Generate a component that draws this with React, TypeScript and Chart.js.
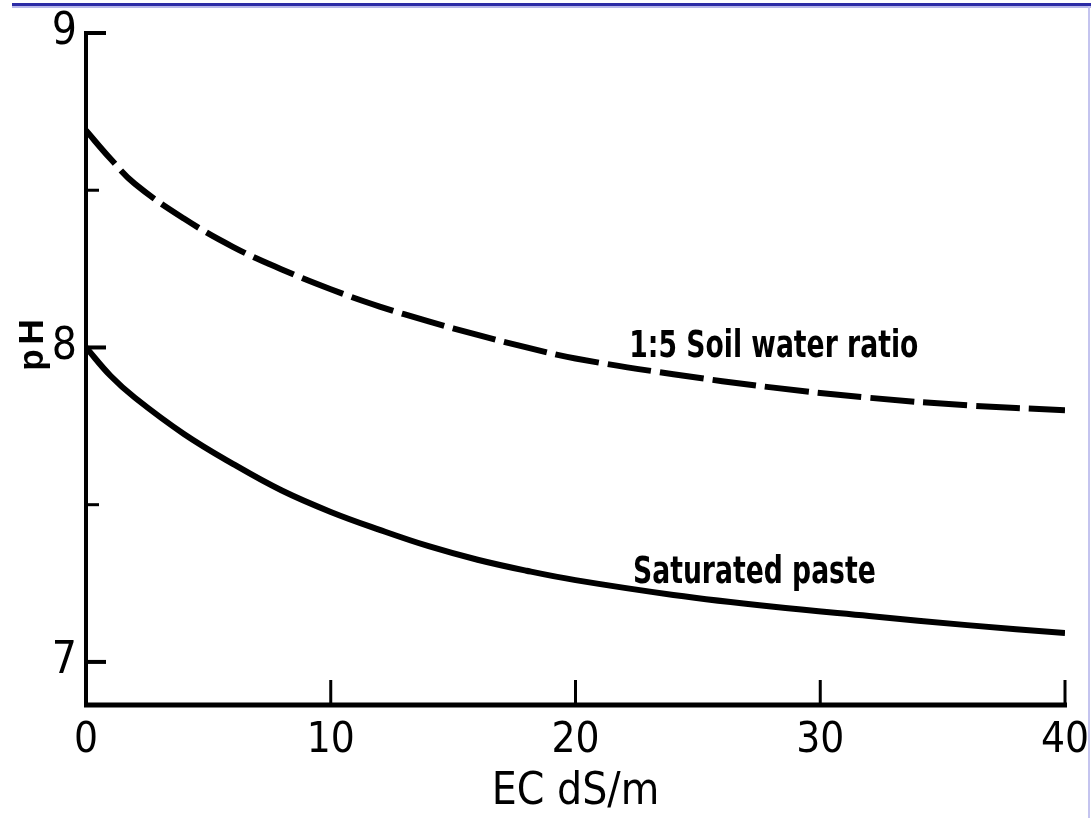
import React, { useEffect, useRef } from "react";
import { Chart, registerables } from "chart.js";

Chart.register(...registerables);

// ---- data ----
const ecValues = [0, 1, 2, 4, 6, 8, 10, 12, 14, 16, 18, 20, 24, 28, 32, 36, 40];
const soilWaterPH = [8.69, 8.6, 8.52, 8.41, 8.32, 8.248, 8.185, 8.13, 8.083, 8.04, 8.0, 7.965, 7.915, 7.873, 7.84, 7.816, 7.8];
const saturatedPastePH = [8.0, 7.91, 7.84, 7.725, 7.63, 7.545, 7.477, 7.42, 7.368, 7.325, 7.29, 7.26, 7.213, 7.176, 7.146, 7.117, 7.092];
const seriesNames = ["1:5 Soil water ratio", "Saturated paste"];
const xTickValues = [0, 10, 20, 30, 40];
const yTickValues = [7, 8, 9];
const yMinorTickValues = [7.5, 8.5];
const xAxisTitle = "EC dS/m";
const yAxisTitle = "pH";
// label anchors in data units (EC, pH at text baseline)
const labelAnchorEC = [22.2, 22.35];
const labelAnchorPH = [7.97, 7.251];

const NARROW = "'Liberation Sans Narrow', 'DejaVu Sans Condensed', sans-serif";
const WIDE = "'Liberation Sans', 'DejaVu Sans', sans-serif";

const decorPlugin = {
  id: "decor",
  beforeDraw(chart: any) {
    const ctx = chart.ctx;
    ctx.save();
    ctx.fillStyle = "#ffffff";
    ctx.fillRect(0, 0, chart.width, chart.height);
    ctx.fillStyle = "#2c2ca6";
    ctx.fillRect(12, 3, chart.width - 12, 3);
    ctx.fillStyle = "#b9b9ea";
    ctx.fillRect(12, 6, chart.width - 12, 2);
    ctx.fillStyle = "#c4c4ef";
    ctx.fillRect(chart.width - 3, 6, 2, chart.height - 6);
    ctx.restore();
  },
  afterDraw(chart: any) {
    const ctx = chart.ctx;
    const xs = chart.scales.x;
    const ys = chart.scales.y;
    const x0 = xs.getPixelForValue(xTickValues[0]);
    const xEnd = xs.getPixelForValue(xTickValues[xTickValues.length - 1]);
    const yTop = ys.getPixelForValue(yTickValues[yTickValues.length - 1]);
    const yBot = chart.chartArea.bottom;
    ctx.save();
    ctx.strokeStyle = "#000";
    ctx.lineCap = "butt";
    // y axis
    ctx.lineWidth = 4;
    ctx.beginPath();
    ctx.moveTo(x0, yTop - 2);
    ctx.lineTo(x0, yBot + 2);
    ctx.stroke();
    // x axis
    ctx.lineWidth = 5;
    ctx.beginPath();
    ctx.moveTo(x0 - 2, yBot);
    ctx.lineTo(xEnd + 2, yBot);
    ctx.stroke();
    // inward y ticks
    ctx.lineWidth = 4;
    yTickValues.forEach((v) => {
      const y = ys.getPixelForValue(v);
      ctx.beginPath();
      ctx.moveTo(x0, y);
      ctx.lineTo(x0 + 20, y);
      ctx.stroke();
    });
    ctx.lineWidth = 3;
    yMinorTickValues.forEach((v) => {
      const y = ys.getPixelForValue(v);
      ctx.beginPath();
      ctx.moveTo(x0, y);
      ctx.lineTo(x0 + 13, y);
      ctx.stroke();
    });
    // inward x ticks
    ctx.lineWidth = 3;
    xTickValues.slice(1).forEach((v) => {
      const x = xs.getPixelForValue(v);
      ctx.beginPath();
      ctx.moveTo(x, yBot);
      ctx.lineTo(x, yBot - 25);
      ctx.stroke();
    });
    // curve labels (condensed lettering)
    ctx.fillStyle = "#000";
    ctx.font = `bold 37px ${NARROW}`;
    ctx.textAlign = "left";
    ctx.textBaseline = "alphabetic";
    seriesNames.forEach((name, i) => {
      ctx.save();
      ctx.translate(xs.getPixelForValue(labelAnchorEC[i]), ys.getPixelForValue(labelAnchorPH[i]));
      ctx.scale(0.8, 1);
      ctx.fillText(name, 0, 0);
      ctx.restore();
    });
    // y axis title (rotated)
    const yMid = ys.getPixelForValue(yTickValues[1]) - 5;
    ctx.save();
    ctx.translate(43, yMid);
    ctx.rotate(-Math.PI / 2);
    ctx.font = `bold 35px ${WIDE}`;
    (ctx as any).letterSpacing = "5px";
    ctx.textAlign = "center";
    ctx.textBaseline = "alphabetic";
    ctx.fillText(yAxisTitle, 0, 0);
    ctx.restore();
    ctx.restore();
  },
};

export default function App() {
  const canvasRef = useRef<HTMLCanvasElement | null>(null);

  useEffect(() => {
    const canvas = canvasRef.current;
    if (!canvas) return;
    const chart = new Chart(canvas, {
      type: "line",
      data: {
        datasets: [
          {
            label: seriesNames[0],
            data: ecValues.map((x, i) => ({ x, y: soilWaterPH[i] })),
            borderColor: "#000",
            borderWidth: 6,
            borderDash: [44, 9],
            pointRadius: 0,
            fill: false,
            tension: 0.4,
          },
          {
            label: seriesNames[1],
            data: ecValues.map((x, i) => ({ x, y: saturatedPastePH[i] })),
            borderColor: "#000",
            borderWidth: 6,
            pointRadius: 0,
            fill: false,
            tension: 0.4,
          },
        ],
      },
      options: {
        animation: false,
        responsive: true,
        maintainAspectRatio: false,
        layout: { padding: { left: 0, top: 33, right: 26, bottom: 0 } },
        plugins: {
          legend: { display: false },
          tooltip: { enabled: false },
        },
        scales: {
          x: {
            type: "linear",
            min: 0,
            max: 40,
            grid: { display: false, drawTicks: false },
            border: { display: false },
            afterBuildTicks: (scale: any) => {
              scale.ticks = xTickValues.map((v) => ({ value: v }));
            },
            afterFit: (scale: any) => {
              scale.height = 113;
              scale.paddingLeft = 0;
              scale.paddingRight = 0;
            },
            ticks: {
              color: "#000",
              padding: 11,
              maxRotation: 0,
              autoSkip: false,
              font: { family: NARROW, size: 42 },
              callback: (v: any) => String(v),
            },
            title: {
              display: true,
              text: xAxisTitle,
              color: "#000",
              font: { family: NARROW, size: 44, lineHeight: 1 },
              padding: { top: 0, bottom: 3 },
            },
          },
          y: {
            type: "linear",
            min: 6.863,
            max: 9,
            grid: { display: false, drawTicks: false },
            border: { display: false },
            afterBuildTicks: (scale: any) => {
              scale.ticks = yTickValues.map((v) => ({ value: v }));
            },
            afterFit: (scale: any) => {
              scale.width = 86;
              scale.paddingTop = 0;
              scale.paddingBottom = 0;
            },
            ticks: {
              color: "#000",
              padding: 9,
              autoSkip: false,
              font: { family: NARROW, size: 44 },
              callback: (v: any) => String(v),
            },
          },
        },
      },
      plugins: [decorPlugin],
    });
    return () => chart.destroy();
  }, []);

  return (
    <div style={{ position: "fixed", left: 0, top: 0, width: 1091, height: 818, background: "#fff" }}>
      <canvas ref={canvasRef} />
    </div>
  );
}
